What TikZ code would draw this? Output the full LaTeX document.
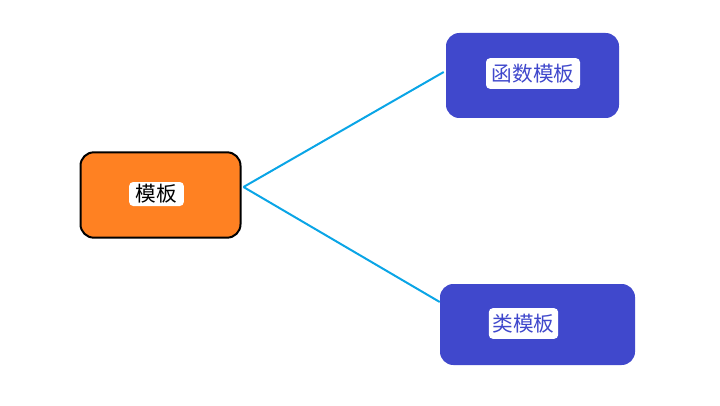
\documentclass[tikz,border=0pt]{standalone}
\usepackage{fontspec}
\setmainfont{Noto Sans CJK SC}
\usetikzlibrary{calc}
\definecolor{rootorange}{HTML}{FF8122}
\definecolor{leafblue}{HTML}{4048CC}
\definecolor{linkcyan}{HTML}{0AA5E6}
\begin{document}
\begin{tikzpicture}[x=0.75pt,y=-0.75pt]
    \tikzset{
      item/.style={rectangle,rounded corners=10pt,inner sep=0pt},
      root/.style={item,draw=black,line width=1.5pt,fill=rootorange,minimum width=120pt,minimum height=64pt},
      leaf/.style={item,fill=leafblue},
      tag/.style={rectangle,rounded corners=3pt,fill=white,inner sep=0pt,font=\fontsize{15.5}{18}\selectfont},
      link/.style={linkcyan,line width=1.5pt}};
    \useasboundingbox (0,0) rectangle (720,406);
    \node[root] (M) at (160.5,195) {};
    \node[leaf,minimum width=129.75pt,minimum height=63.75pt] (F) at (532.5,75.5) {};
    \node[leaf,minimum width=146.25pt,minimum height=60.75pt] (C) at (537.5,324.5) {};
    \node[tag,minimum width=41pt,minimum height=18pt] (Mt) at (156.5,194) {模板};
    \node[tag,text=leafblue,minimum width=70.5pt,minimum height=23pt] (Ft) at (533,73.5) {函数模板};
    \node[tag,text=leafblue,minimum width=52pt,minimum height=23pt] (Ct) at (523.5,323.5) {类模板};
    \draw[link] ($(M.east)+(2,-8)$) -- ($(F.west)+(-2,-3.5)$);
    \draw[link] ($(M.east)+(2,-8)$) -- ($(C.west)+(0,-22.5)$);
  \end{tikzpicture}
\end{document}
